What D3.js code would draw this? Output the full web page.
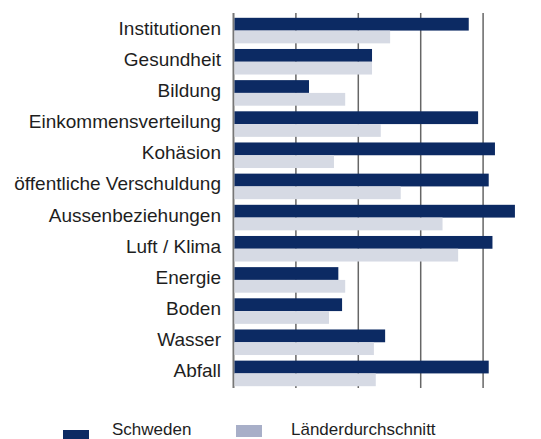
<!DOCTYPE html>
<html>
<head>
<meta charset="utf-8">
<script src="https://cdn.jsdelivr.net/npm/d3@7"></script>
<style>
  html, body { margin: 0; padding: 0; background: #fff; }
  svg { display: block; font-family: "Liberation Sans", Arial, sans-serif; }
</style>
</head>
<body>
<div id="chart"></div>
<script>
// Werte (Skala 0..5, keine Achsenbeschriftung)
const categories = [
  "Institutionen", "Gesundheit", "Bildung", "Einkommensverteilung", "Kohäsion",
  "öffentliche Verschuldung", "Aussenbeziehungen", "Luft / Klima", "Energie",
  "Boden", "Wasser", "Abfall"
];
const schweden = [3.77, 2.22, 1.21, 3.92, 4.19, 4.09, 4.51, 4.15, 1.68, 1.74, 2.43, 4.09];
const durchschnitt = [2.51, 2.22, 1.79, 2.36, 1.61, 2.68, 3.35, 3.60, 1.79, 1.53, 2.25, 2.28];
const seriesNames = ["Schweden", "Länderdurchschnitt"];
const gridValues = [1, 2, 3, 4];

const width = 541, height = 439;

const svg = d3.select("#chart")
  .append("svg")
  .attr("width", width)
  .attr("height", height);

const x = d3.scaleLinear().domain([0, 5]).range([233.5, 545.5]);

const y = d3.scaleBand()
  .domain(categories)
  .range([15, 389])
  .paddingInner(0.18)
  .paddingOuter(0.09);

const ySub = d3.scaleBand()
  .domain(seriesNames)
  .range([0, y.bandwidth()]);

const barColor = { "Schweden": "#0c2a63", "Länderdurchschnitt": "#d6dae4" };
const legendColor = { "Schweden": "#0c2a63", "Länderdurchschnitt": "#a8afc8" };

// gridlines
svg.append("g")
  .selectAll("line")
  .data(gridValues)
  .enter()
  .append("line")
  .attr("x1", (d) => x(d))
  .attr("x2", (d) => x(d))
  .attr("y1", 13)
  .attr("y2", 388)
  .attr("stroke", "#666")
  .attr("stroke-width", 1.5);

// axis line at 0
svg.append("line")
  .attr("x1", x(0))
  .attr("x2", x(0))
  .attr("y1", 13)
  .attr("y2", 388)
  .attr("stroke", "#777")
  .attr("stroke-width", 2);

// bars
const rows = categories.map((c, i) => ({ cat: c, values: [schweden[i], durchschnitt[i]] }));

const groups = svg.append("g")
  .selectAll("g")
  .data(rows)
  .enter()
  .append("g")
  .attr("transform", (d) => `translate(0,${y(d.cat)})`);

groups.selectAll("rect")
  .data((d) => d.values.map((v, j) => ({ key: seriesNames[j], value: v })))
  .enter()
  .append("rect")
  .attr("x", x(0) + 1)
  .attr("y", (d) => ySub(d.key))
  .attr("width", (d) => x(d.value) - x(0) - 1)
  .attr("height", ySub.bandwidth())
  .attr("fill", (d) => barColor[d.key]);

// category labels
svg.append("g")
  .selectAll("text")
  .data(categories)
  .enter()
  .append("text")
  .attr("x", 221)
  .attr("y", (d) => y(d) + y.bandwidth() / 2 - 1)
  .attr("text-anchor", "end")
  .attr("dominant-baseline", "middle")
  .style("font-size", "19px")
  .attr("fill", "#1e1e1e")
  .text((d) => d);

// legend
const legendData = [
  { key: "Schweden", rx: 63, ry: 430, tx: 112, ty: 435 },
  { key: "Länderdurchschnitt", rx: 236, ry: 425, tx: 291, ty: 435 }
];

const legend = svg.append("g").attr("class", "legend");

legend.selectAll("rect")
  .data(legendData)
  .enter()
  .append("rect")
  .attr("x", (d) => d.rx)
  .attr("y", (d) => d.ry)
  .attr("width", 26)
  .attr("height", 12)
  .attr("fill", (d) => legendColor[d.key]);

legend.selectAll("text")
  .data(legendData)
  .enter()
  .append("text")
  .attr("x", (d) => d.tx)
  .attr("y", (d) => d.ty)
  .style("font-size", "17px")
  .attr("fill", "#1e1e1e")
  .text((d) => d.key);
</script>
</body>
</html>
